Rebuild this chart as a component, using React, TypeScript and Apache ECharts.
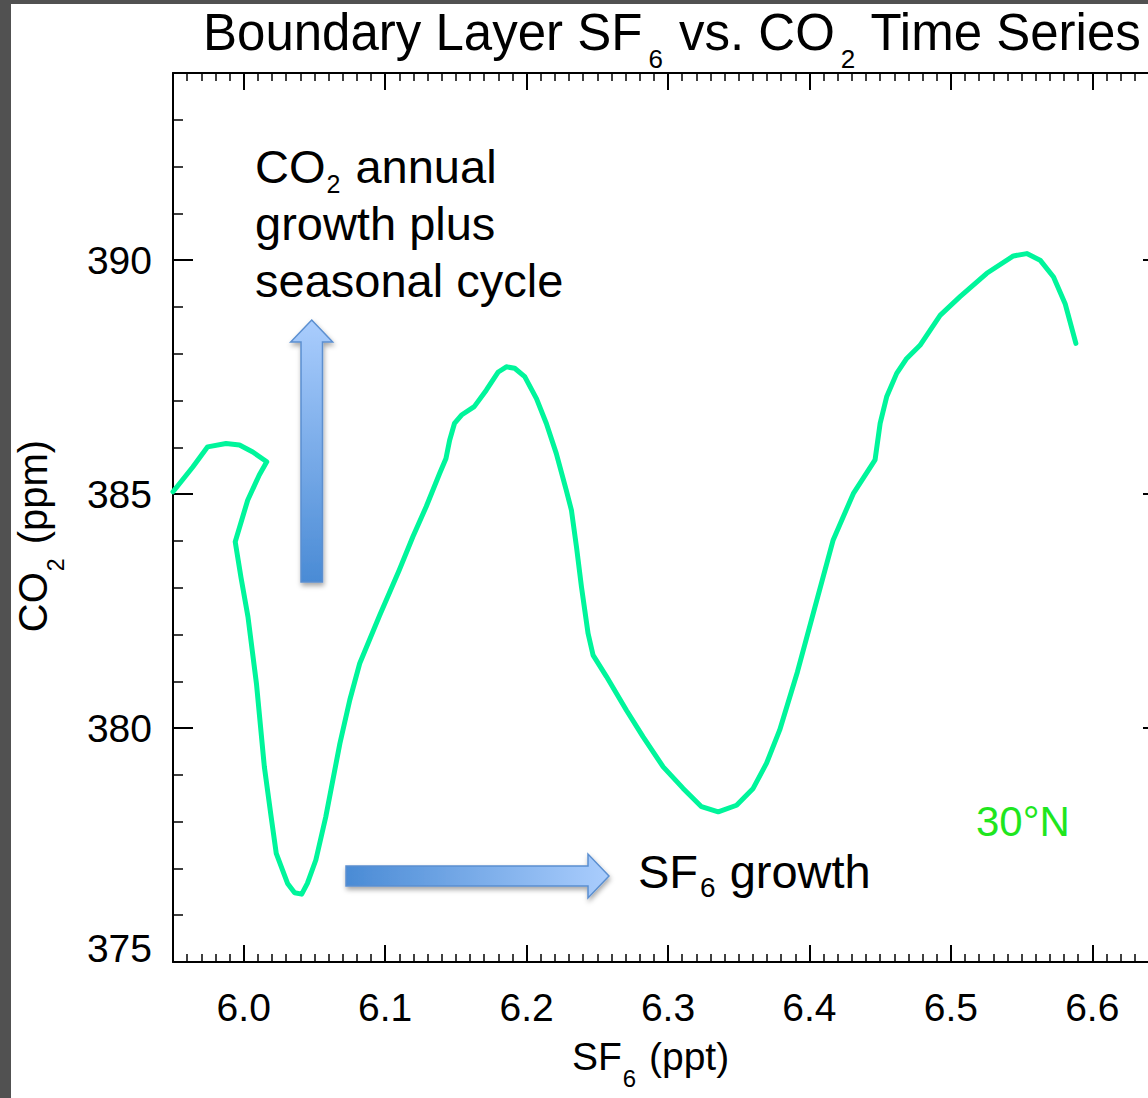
import React, { useEffect, useRef } from 'react';
import * as echarts from 'echarts';

// SF6 (ppt) along the seasonal time series
const sf6Values = [
  5.950, 5.964, 5.9745, 5.9875, 5.997, 6.0064, 6.0163, 6.011, 6.0028, 5.994,
  5.998, 6.003, 6.009, 6.0146, 6.0194, 6.023, 6.031, 6.036, 6.041, 6.045,
  6.051, 6.058, 6.068, 6.075, 6.082, 6.096, 6.110, 6.1196, 6.129, 6.1385,
  6.143, 6.1456, 6.149, 6.154, 6.163, 6.1715, 6.180, 6.1857, 6.1916, 6.1987,
  6.207, 6.214, 6.221, 6.228, 6.2317, 6.2353, 6.2388, 6.2435, 6.247, 6.2565,
  6.2706, 6.2824, 6.2966, 6.3107, 6.3237, 6.3355, 6.3485, 6.3602, 6.3697, 6.379,
  6.3915, 6.4027, 6.4168, 6.431, 6.4464, 6.450, 6.4546, 6.4617, 6.4688, 6.4782,
  6.4924, 6.5065, 6.5254, 6.5442, 6.5537, 6.5631, 6.5726, 6.5808, 6.5884,
];
// CO2 (ppm) matching each SF6 value
const co2Values = [
  385.05, 385.58, 386.01, 386.08, 386.05, 385.90, 385.69, 385.41, 384.87, 383.98,
  383.23, 382.38, 380.95, 379.17, 378.10, 377.32, 376.68, 376.48, 376.45, 376.68,
  377.18, 378.10, 379.67, 380.60, 381.38, 382.40, 383.38, 384.09, 384.73, 385.44,
  385.76, 386.15, 386.51, 386.69, 386.87, 387.22, 387.61, 387.72, 387.69, 387.51,
  387.04, 386.51, 385.87, 385.09, 384.66, 383.87, 383.02, 382.02, 381.56, 381.10,
  380.38, 379.81, 379.17, 378.71, 378.32, 378.21, 378.35, 378.71, 379.25, 379.96,
  381.20, 382.45, 384.02, 385.01, 385.73, 386.51, 387.08, 387.58, 387.90, 388.18,
  388.82, 389.22, 389.72, 390.09, 390.14, 390.00, 389.64, 389.07, 388.22,
];

const xTickLabels = ['6.0', '6.1', '6.2', '6.3', '6.4', '6.5', '6.6'];
const yTickLabels = ['375', '380', '385', '390'];

const FONT = '"Liberation Sans", Arial, Helvetica, sans-serif';
const GRAY = '#515151';
const CURVE = '#00f59b';

function xFmt(v: number) {
  const s = v.toFixed(1);
  if (Math.abs(v - parseFloat(s)) > 1e-6) return '';
  return xTickLabels.includes(s) ? s : '';
}
function yFmt(v: number) {
  const r = Math.round(v);
  if (Math.abs(v - r) > 1e-6) return '';
  const s = String(r);
  if (!yTickLabels.includes(s)) return '';
  return s === '375' ? '{low|375}' : s;
}

function txt(size: number, lh: number) {
  return { fontSize: size, fontFamily: FONT, fill: '#000', lineHeight: lh, verticalAlign: 'middle' };
}
function sub(size: number, shift: number, padL: number, padR: number) {
  return {
    fontSize: size, fontFamily: FONT, fill: '#000', lineHeight: 10, verticalAlign: 'middle',
    padding: [shift * 2, padR, 0, padL],
  };
}

function buildOption() {
  const data = sf6Values.map((x, i) => [x, co2Values[i]]);
  const axisLine = { show: true, lineStyle: { color: '#000', width: 2 } };
  const xCommon = {
    type: 'value', min: 5.95, max: 6.65, splitNumber: 7, minInterval: 0.1, maxInterval: 0.1,
    axisLine, splitLine: { show: false },
    axisTick: { show: true, inside: true, length: 17, lineStyle: { color: '#000', width: 2 } },
    minorTick: { show: true, splitNumber: 10, length: 8, lineStyle: { color: '#000', width: 1.5 } },
    minorSplitLine: { show: false },
  };
  const yCommon = {
    type: 'value', min: 375, max: 394, splitNumber: 4, minInterval: 5, maxInterval: 5,
    axisLine, splitLine: { show: false },
    axisTick: { show: true, inside: true, length: 20, lineStyle: { color: '#000', width: 2 } },
    minorTick: { show: true, splitNumber: 5, length: 10, lineStyle: { color: '#000', width: 1.5 } },
    minorSplitLine: { show: false },
  };
  const arrowGradV = new echarts.graphic.LinearGradient(0, 0, 0, 1, [
    { offset: 0, color: '#aacdfd' }, { offset: 1, color: '#4a8bd5' },
  ]);
  const arrowGradH = new echarts.graphic.LinearGradient(0, 0, 1, 0, [
    { offset: 0, color: '#4a8bd5' }, { offset: 1, color: '#aacdfd' },
  ]);
  const arrowStyle = {
    stroke: '#5b8fd0', lineWidth: 1.5, shadowBlur: 5, shadowColor: 'rgba(0,0,0,0.35)',
    shadowOffsetX: 1, shadowOffsetY: 3,
  };
  return {
    animation: false,
    backgroundColor: '#ffffff',
    grid: { left: 173, right: 17, top: 73, bottom: 136, containLabel: false, outerBoundsMode: 'none' },
    xAxis: [
      {
        ...xCommon, position: 'bottom',
        axisLabel: { show: true, formatter: xFmt, margin: 26, fontSize: 39, fontFamily: FONT, color: '#000' },
      },
      { ...xCommon, position: 'top', axisLabel: { show: false } },
    ],
    yAxis: [
      {
        ...yCommon, position: 'left',
        axisLabel: {
          show: true, formatter: yFmt, margin: 21, fontSize: 39, fontFamily: FONT, color: '#000',
          rich: { low: { fontSize: 39, fontFamily: FONT, color: '#000', padding: [0, 0, 28, 0] } },
        },
      },
      { ...yCommon, position: 'right', axisLabel: { show: false } },
    ],
    series: [
      {
        type: 'line', data, showSymbol: false, symbol: 'none', smooth: false,
        lineStyle: { color: CURVE, width: 5, cap: 'round', join: 'round' },
        xAxisIndex: 0, yAxisIndex: 0, z: 3,
      },
    ],
    graphic: [
      { type: 'rect', shape: { x: 0, y: 0, width: 11, height: 1098 }, style: { fill: GRAY }, z: 100 },
      { type: 'rect', shape: { x: 0, y: 0, width: 1180, height: 4 }, style: { fill: GRAY }, z: 100 },
      {
        type: 'text', x: 203, y: 32, z: 50,
        style: {
          text: '{m|Boundary Layer SF}{s|6}{m| vs. CO}{s|2}{m| Time Series}',
          align: 'left', verticalAlign: 'middle',
          rich: { m: txt(51, 60), s: sub(26, 27, 6, 2) },
        },
      },
      {
        type: 'text', x: 255, y: 137.5, z: 50,
        style: {
          text: '{m|CO}{s|2}{m| annual}\n{m|growth plus}\n{m|seasonal cycle}',
          align: 'left', verticalAlign: 'top',
          rich: { m: txt(47, 57), s: sub(25, 18, 1, 2) },
        },
      },
      {
        type: 'text', x: 638, y: 871, z: 50,
        style: {
          text: '{m|SF}{s|6}{m| growth}',
          align: 'left', verticalAlign: 'middle',
          rich: { m: txt(47, 55), s: sub(28, 16, 2, 1) },
        },
      },
      {
        type: 'text', x: 976, y: 821, z: 50,
        style: { text: '30°N', fontSize: 42, fontFamily: FONT, fill: '#1fe61f', align: 'left', verticalAlign: 'middle' },
      },
      {
        type: 'text', x: 572, y: 1056, z: 50,
        style: {
          text: '{m|SF}{s|6}{m| (ppt)}',
          align: 'left', verticalAlign: 'middle',
          rich: { m: txt(39, 44), s: sub(24, 22, 1, 2) },
        },
      },
      {
        type: 'text', x: 33, y: 536, rotation: Math.PI / 2, z: 50,
        style: {
          text: '{m|CO}{s|2}{m| (ppm)}',
          align: 'center', verticalAlign: 'middle',
          rich: { m: txt(40, 46), s: sub(23, 23, 1, 3) },
        },
      },
      {
        type: 'polygon', z: 40,
        shape: { points: [[311.7, 320], [332.7, 342], [322.5, 342], [322.5, 582], [301, 582], [301, 342], [290.7, 342]] },
        style: { fill: arrowGradV, ...arrowStyle },
      },
      {
        type: 'polygon', z: 40,
        shape: { points: [[346, 866], [588, 866], [588, 854], [609, 876], [588, 898], [588, 886], [346, 886]] },
        style: { fill: arrowGradH, ...arrowStyle },
      },
    ],
  };
}

export default function App() {
  const ref = useRef<HTMLDivElement>(null);
  useEffect(() => {
    if (!ref.current) return;
    const chart = echarts.init(ref.current, undefined, { renderer: 'svg' });
    chart.setOption(buildOption() as any);
    return () => chart.dispose();
  }, []);
  return (
    <div style={{ position: 'fixed', left: 0, top: 0, width: 1148, height: 1098, overflow: 'hidden', background: '#fff' }}>
      <div ref={ref} style={{ width: 1180, height: 1098 }} />
    </div>
  );
}
